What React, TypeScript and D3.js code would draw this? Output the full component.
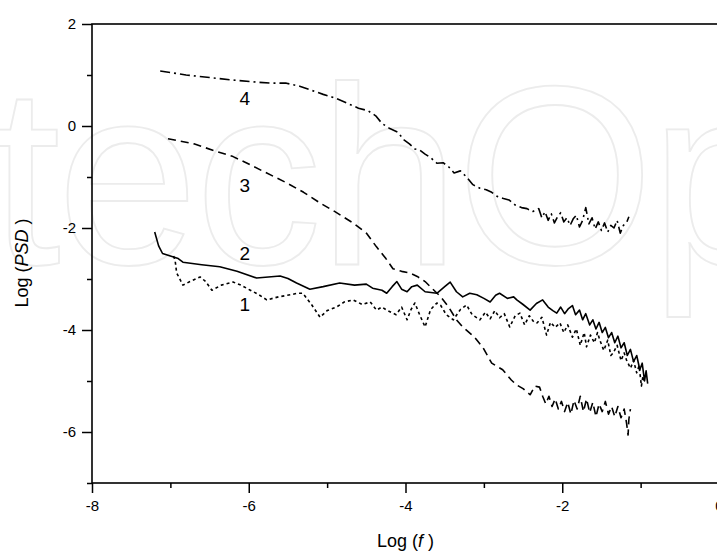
import React, { useRef, useEffect } from "react";
import * as d3 from "d3";

// log(f) vs log(PSD)
const curve1: [number, number][] = [
  [-6.96, -2.55], [-6.94, -2.63], [-6.92, -2.88], [-6.84, -3.12], [-6.75, -3.05], [-6.62, -2.96],
  [-6.55, -3.05], [-6.47, -3.22], [-6.35, -3.12], [-6.2, -3.06], [-6.1, -3.12], [-5.98, -3.22],
  [-5.88, -3.3], [-5.77, -3.41], [-5.62, -3.35], [-5.47, -3.31], [-5.38, -3.28], [-5.31, -3.28],
  [-5.2, -3.5], [-5.09, -3.75], [-5.0, -3.62], [-4.88, -3.55], [-4.78, -3.45], [-4.67, -3.41],
  [-4.55, -3.5], [-4.45, -3.45], [-4.37, -3.61], [-4.3, -3.55], [-4.24, -3.61], [-4.12, -3.7],
  [-4.05, -3.55], [-3.98, -3.8], [-3.93, -3.6], [-3.88, -3.47], [-3.82, -3.7], [-3.75, -3.94],
  [-3.68, -3.6], [-3.6, -3.47], [-3.55, -3.52], [-3.48, -3.7], [-3.39, -3.8], [-3.3, -3.6],
  [-3.22, -3.51], [-3.15, -3.7], [-3.05, -3.8], [-2.98, -3.65], [-2.92, -3.78], [-2.86, -3.62],
  [-2.8, -3.76], [-2.74, -3.68], [-2.67, -3.94], [-2.6, -3.72], [-2.54, -3.67], [-2.48, -3.9],
  [-2.42, -3.72], [-2.36, -3.85], [-2.32, -3.86], [-2.26, -3.75], [-2.2, -4.1], [-2.15, -3.85],
  [-2.09, -3.95], [-2.03, -3.86], [-1.98, -4.05], [-1.93, -3.9], [-1.87, -4.14], [-1.82, -3.98],
  [-1.77, -4.3], [-1.72, -4.05], [-1.69, -4.33], [-1.64, -4.1], [-1.59, -4.25], [-1.55, -4.05],
  [-1.52, -4.2], [-1.47, -4.4], [-1.42, -4.2], [-1.38, -4.5], [-1.35, -4.45], [-1.3, -4.3],
  [-1.25, -4.6], [-1.21, -4.45], [-1.18, -4.59], [-1.13, -4.75], [-1.09, -4.6], [-1.05, -4.84],
  [-1.02, -4.7], [-0.99, -5.1], [-0.97, -4.9], [-0.95, -5.04],
];

const curve2: [number, number][] = [
  [-7.2, -2.08], [-7.15, -2.35], [-7.1, -2.5], [-7.0, -2.55], [-6.9, -2.6], [-6.84, -2.67],
  [-6.6, -2.72], [-6.37, -2.76], [-6.15, -2.85], [-5.9, -2.98], [-5.75, -2.96], [-5.6, -2.94],
  [-5.5, -2.99], [-5.39, -3.08], [-5.22, -3.2], [-5.05, -3.15], [-4.84, -3.08], [-4.65, -3.12],
  [-4.5, -3.1], [-4.42, -3.18], [-4.3, -3.22], [-4.24, -3.28], [-4.17, -3.15], [-4.11, -3.05],
  [-4.05, -3.2], [-3.98, -3.25], [-3.92, -3.15], [-3.85, -3.12], [-3.75, -3.25], [-3.6, -3.28],
  [-3.5, -3.15], [-3.43, -3.06], [-3.35, -3.25], [-3.27, -3.35], [-3.18, -3.28], [-3.09, -3.31],
  [-3.0, -3.38], [-2.92, -3.45], [-2.85, -3.32], [-2.8, -3.28], [-2.7, -3.38], [-2.62, -3.35],
  [-2.58, -3.41], [-2.5, -3.5], [-2.41, -3.61], [-2.33, -3.48], [-2.25, -3.41], [-2.18, -3.55],
  [-2.12, -3.62], [-2.07, -3.67], [-2.02, -3.55], [-1.97, -3.68], [-1.92, -3.58], [-1.87, -3.52],
  [-1.83, -3.7], [-1.78, -3.61], [-1.74, -3.8], [-1.7, -3.68], [-1.65, -3.9], [-1.61, -3.8],
  [-1.57, -3.98], [-1.53, -3.85], [-1.49, -4.05], [-1.45, -3.95], [-1.41, -4.15], [-1.37, -4.05],
  [-1.33, -4.25], [-1.29, -4.12], [-1.25, -4.35], [-1.21, -4.25], [-1.17, -4.5], [-1.13, -4.38],
  [-1.09, -4.62], [-1.05, -4.5], [-1.01, -4.78], [-0.98, -4.65], [-0.95, -5.0], [-0.93, -4.8],
  [-0.91, -5.05],
];

const curve3: [number, number][] = [
  [-7.03, -0.25], [-6.7, -0.35], [-6.41, -0.5], [-6.2, -0.6], [-6.02, -0.73], [-5.8, -0.9],
  [-5.51, -1.12], [-5.3, -1.3], [-5.09, -1.51], [-4.9, -1.68], [-4.67, -1.9], [-4.5, -2.1],
  [-4.37, -2.37], [-4.25, -2.6], [-4.16, -2.8], [-4.05, -2.85], [-3.95, -2.88], [-3.85, -2.95],
  [-3.75, -3.05], [-3.65, -3.2], [-3.55, -3.35], [-3.45, -3.55], [-3.35, -3.8], [-3.27, -3.94],
  [-3.12, -4.14], [-3.01, -4.35], [-2.9, -4.65], [-2.76, -4.78], [-2.65, -4.98], [-2.58, -5.08],
  [-2.5, -5.15], [-2.41, -5.27], [-2.35, -5.1], [-2.29, -5.12], [-2.25, -5.3], [-2.21, -5.45],
  [-2.17, -5.3], [-2.13, -5.5], [-2.09, -5.35], [-2.05, -5.55], [-2.01, -5.4], [-1.97, -5.6],
  [-1.93, -5.42], [-1.89, -5.65], [-1.85, -5.38], [-1.81, -5.55], [-1.77, -5.3], [-1.73, -5.6],
  [-1.69, -5.35], [-1.65, -5.62], [-1.61, -5.42], [-1.57, -5.7], [-1.53, -5.45], [-1.49, -5.6],
  [-1.45, -5.4], [-1.41, -5.65], [-1.37, -5.5], [-1.33, -5.7], [-1.29, -5.5], [-1.25, -5.72],
  [-1.21, -5.55], [-1.18, -5.82], [-1.16, -6.06], [-1.15, -5.75], [-1.13, -5.55],
];

const curve4: [number, number][] = [
  [-7.13, 1.08], [-6.8, 1.0], [-6.5, 0.95], [-6.2, 0.9], [-5.9, 0.86], [-5.7, 0.84],
  [-5.52, 0.84], [-5.35, 0.78], [-5.2, 0.7], [-5.05, 0.62], [-4.9, 0.55], [-4.75, 0.45],
  [-4.6, 0.35], [-4.48, 0.3], [-4.38, 0.2], [-4.3, 0.05], [-4.2, -0.05], [-4.1, -0.12],
  [-4.02, -0.27], [-3.95, -0.35], [-3.88, -0.45], [-3.82, -0.47], [-3.75, -0.55], [-3.68, -0.62],
  [-3.6, -0.73], [-3.52, -0.72], [-3.45, -0.8], [-3.38, -0.92], [-3.3, -0.88], [-3.22, -1.0],
  [-3.14, -1.15], [-3.05, -1.22], [-2.97, -1.25], [-2.9, -1.3], [-2.83, -1.38], [-2.75, -1.42],
  [-2.68, -1.45], [-2.6, -1.55], [-2.52, -1.6], [-2.45, -1.62], [-2.38, -1.68], [-2.3, -1.62],
  [-2.26, -1.8], [-2.22, -1.68], [-2.18, -1.85], [-2.14, -1.72], [-2.1, -1.9], [-2.06, -1.78],
  [-2.02, -1.7], [-1.98, -1.88], [-1.94, -1.8], [-1.9, -1.95], [-1.86, -1.82], [-1.82, -1.75],
  [-1.78, -1.98], [-1.74, -1.85], [-1.7, -1.6], [-1.66, -1.92], [-1.62, -1.8], [-1.58, -2.02],
  [-1.54, -1.88], [-1.5, -2.05], [-1.46, -1.9], [-1.42, -2.08], [-1.38, -1.95], [-1.34, -2.0],
  [-1.3, -1.85], [-1.26, -2.1], [-1.22, -1.95], [-1.18, -1.9], [-1.15, -1.78],
];

const series = [
  { name: "1", points: curve1, dash: "3,3", label: [-6.05, -3.62] },
  { name: "2", points: curve2, dash: "", label: [-6.05, -2.62] },
  { name: "3", points: curve3, dash: "8,5", label: [-6.05, -1.3] },
  { name: "4", points: curve4, dash: "10,4,2,4", label: [-6.05, 0.42] },
];

const xMajor = [-8, -6, -4, -2, 0];
const xMinor = [-7, -5, -3, -1];
const yMajor = [2, 0, -2, -4, -6];
const yMinor = [1, -1, -3, -5, -7];

const W = 717;
const H = 554;
const m = { left: 92, top: 24, right: 719, bottom: 483 };
const font = "'Liberation Sans', Arial, sans-serif";

export default function App() {
  const xAxisRef = useRef<SVGGElement>(null);
  const yAxisRef = useRef<SVGGElement>(null);

  const x = d3.scaleLinear().domain([-8, 0]).range([m.left, m.right]);
  const y = d3.scaleLinear().domain([-7, 2]).range([m.bottom, m.top]);
  const line = d3
    .line<[number, number]>()
    .x((d) => x(d[0]))
    .y((d) => y(d[1]));

  useEffect(() => {
    document.body.style.margin = "0";
    const fmt = (d: d3.NumberValue) => String(d);

    const gx = d3.select(xAxisRef.current);
    gx.selectAll("*").remove();
    gx.append("g")
      .call(d3.axisBottom(x).tickValues(xMajor).tickSize(10).tickPadding(7).tickFormat(fmt).tickSizeOuter(0));
    gx.append("g")
      .call(d3.axisBottom(x).tickValues(xMinor).tickSize(5).tickFormat(() => "").tickSizeOuter(0));

    const gy = d3.select(yAxisRef.current);
    gy.selectAll("*").remove();
    gy.append("g")
      .call(d3.axisLeft(y).tickValues(yMajor).tickSize(10).tickPadding(6).tickFormat(fmt).tickSizeOuter(0));
    gy.append("g")
      .call(d3.axisLeft(y).tickValues(yMinor).tickSize(5).tickFormat(() => "").tickSizeOuter(0));

    [gx, gy].forEach((g) => {
      g.selectAll(".domain").remove();
      g.selectAll("line").attr("stroke", "#000").attr("stroke-width", 1.5);
      g.selectAll("text").attr("font-family", font).attr("font-size", 15).attr("fill", "#000");
    });
  }, []);

  return (
    <svg width={W} height={H} style={{ display: "block", background: "#fff" }}>
      <text
        x={-10}
        y={264}
        fontFamily={font}
        fontSize={255}
        fill="none"
        stroke="#ececec"
        strokeWidth={1.8}
        letterSpacing={-4}
      >
        techOpen
      </text>
      {series.map((s) => (
        <path
          key={s.name}
          d={line(s.points) || ""}
          fill="none"
          stroke="#000"
          strokeWidth={1.6}
          strokeDasharray={s.dash || undefined}
          strokeLinejoin="round"
        />
      ))}
      {series.map((s) => (
        <text
          key={"l" + s.name}
          x={x(s.label[0])}
          y={y(s.label[1])}
          textAnchor="middle"
          fontFamily={font}
          fontSize={19}
        >
          {s.name}
        </text>
      ))}
      <rect
        x={m.left}
        y={m.top}
        width={m.right - m.left}
        height={m.bottom - m.top}
        fill="none"
        stroke="#000"
        strokeWidth={1.6}
      />
      <g ref={xAxisRef} transform={`translate(0,${m.bottom})`} />
      <g ref={yAxisRef} transform={`translate(${m.left},0)`} />
      <text x={x(-4)} y={547} textAnchor="middle" fontFamily={font} fontSize={18}>
        Log (<tspan fontStyle="italic">f</tspan> )
      </text>
      <text
        transform={`translate(28,263) rotate(-90)`}
        textAnchor="middle"
        fontFamily={font}
        fontSize={18}
      >
        Log (<tspan fontStyle="italic">PSD</tspan> )
      </text>
    </svg>
  );
}
